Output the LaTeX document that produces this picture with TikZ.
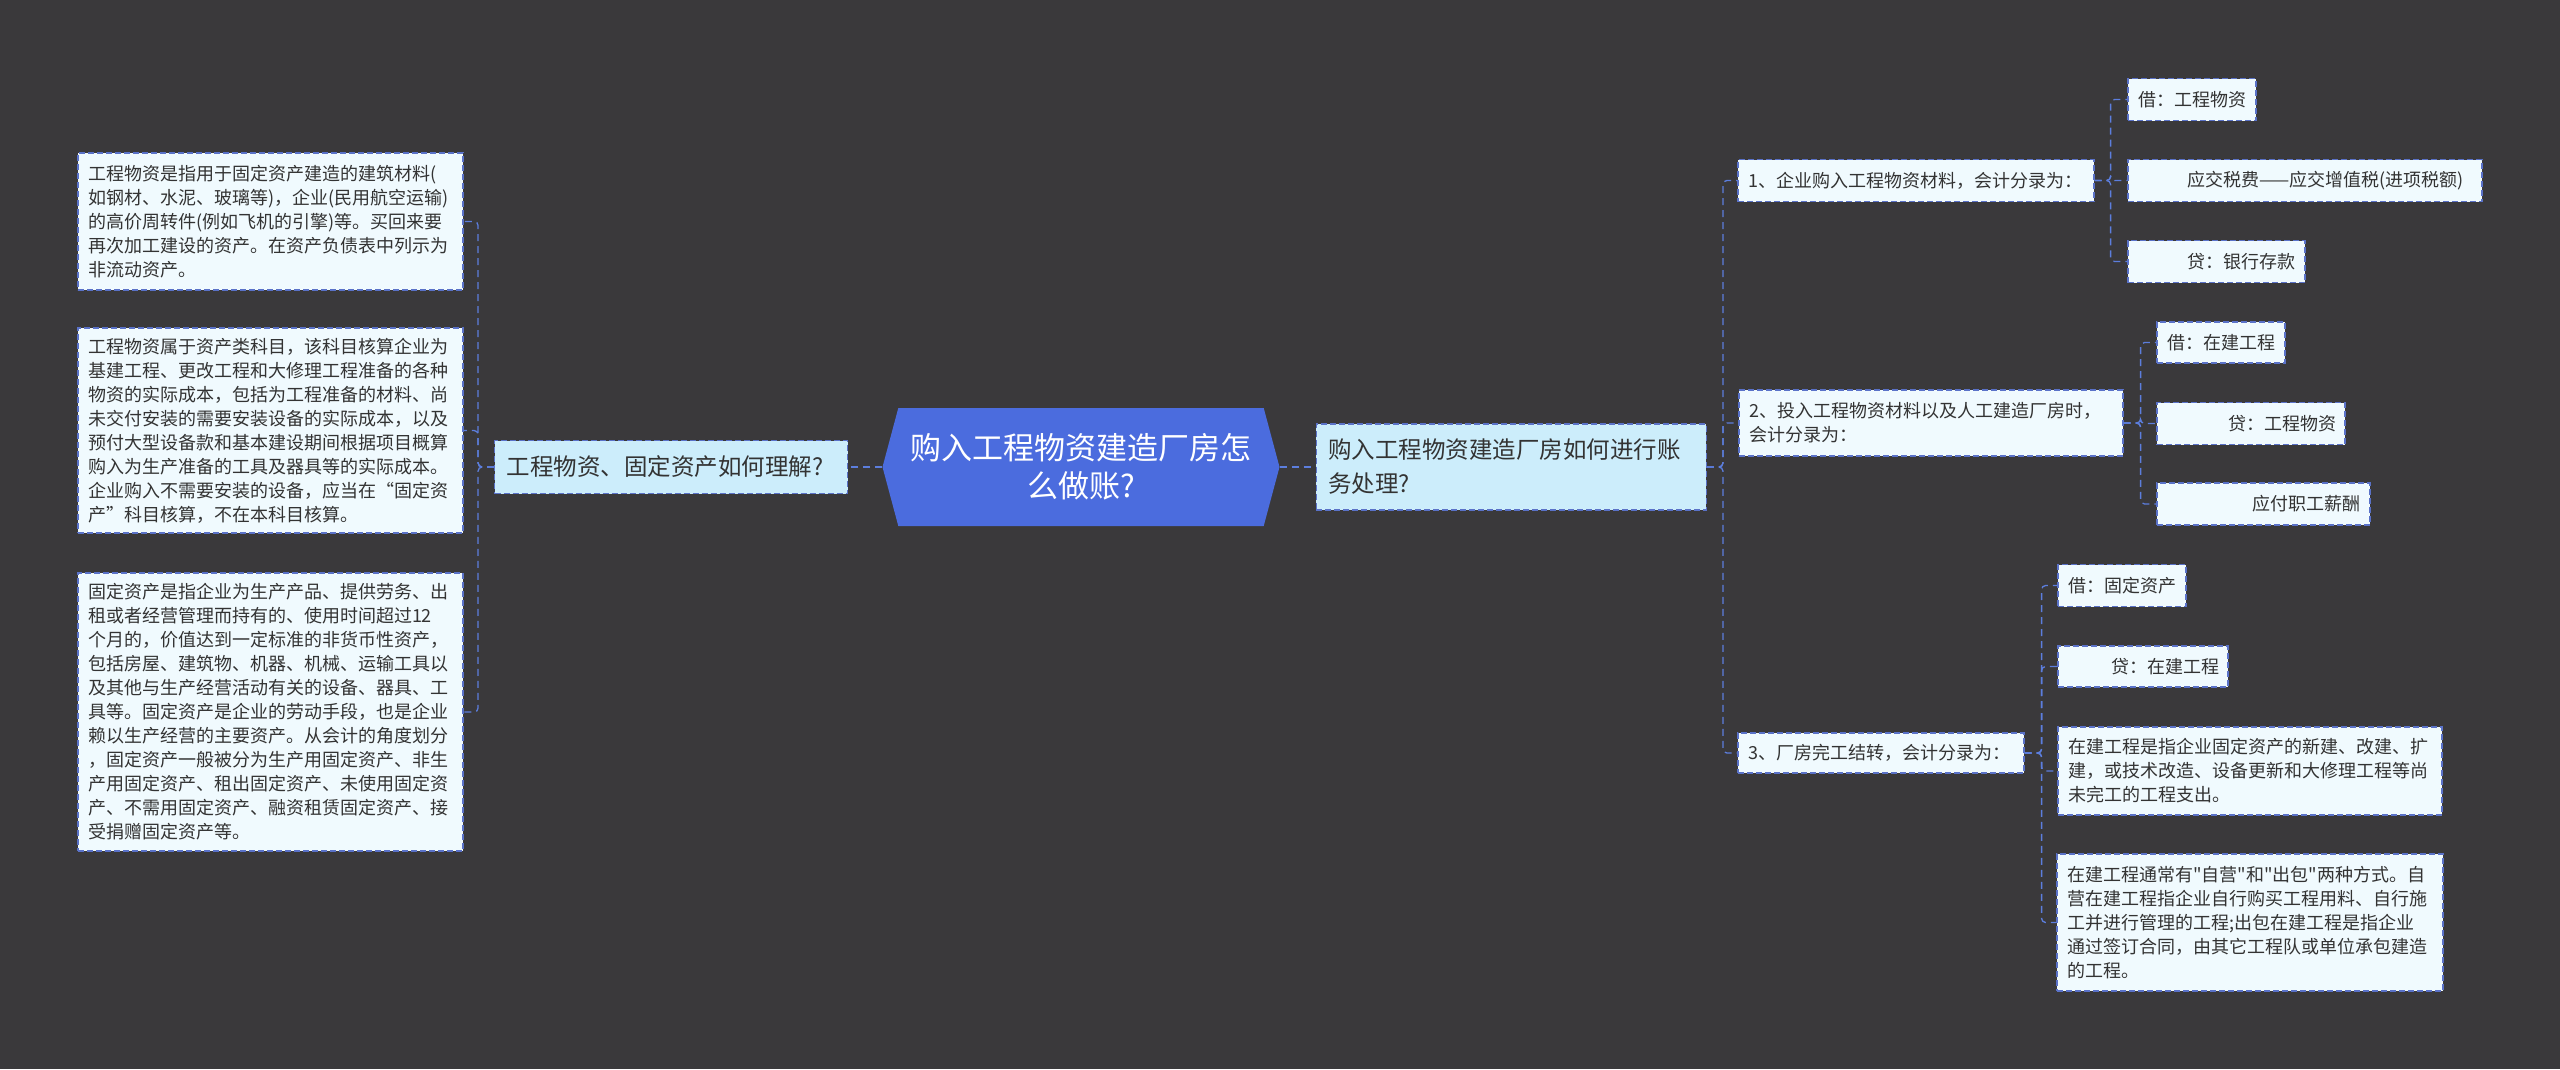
\documentclass[tikz,border=0pt]{standalone}
\usepackage{fontspec}
\setmainfont{Noto Sans CJK SC}[Ligatures=TeXOff]
\usepackage{xcolor}
\usetikzlibrary{positioning, shapes.symbols}

\definecolor{bgdark}{HTML}{3A393B}
\definecolor{rootblue}{HTML}{4B6CDE}
\definecolor{topicfill}{HTML}{CCEDFB}
\definecolor{leaffill}{HTML}{F0FAFE}
\definecolor{edgeblue}{HTML}{5A72C8}
\definecolor{linkblue}{HTML}{5C7EDD}
\definecolor{inkgray}{HTML}{333333}

\begin{document}
\begin{tikzpicture}[
        x=1pt, y=-1pt,
        node distance=34pt,
        hub/.style={signal, signal to=east and west, signal pointer angle=150, fill=rootblue, text=white, align=center, font=\fontsize{31}{38}\selectfont},
        topic/.style={rectangle, draw=edgeblue, dash pattern=on 6pt off 3pt, line width=1.2pt, fill=topicfill, text=inkgray, align=left, inner xsep=12pt, inner ysep=0pt, font=\fontsize{23.5}{34}\selectfont},
        leaf/.style={rectangle, draw=edgeblue, dash pattern=on 6pt off 3pt, line width=1.2pt, fill=leaffill, text=inkgray, align=left, inner xsep=10pt, inner ysep=0pt, minimum height=42pt, font=\fontsize{18}{24}\selectfont},
        link/.style={draw=linkblue, line width=1.3pt, dash pattern=on 7pt off 5pt, rounded corners=4pt},
    ]
        \fill[bgdark] (0,0) rectangle (2560,1069);
        \useasboundingbox (0,0) rectangle (2560,1069);

        % Centre
        \node[hub, minimum width=397pt, minimum height=118pt] (root) at (1081,467) {购入工程物资建造厂房怎\\么做账?};

        % Main topics
        \node[topic, left=34pt of root, text width=329pt, minimum height=53pt] (lmain) {工程物资、固定资产如何理解?};
        \node[topic, right=36pt of root, text width=366pt, minimum height=86pt] (rmain) {购入工程物资建造厂房如何进行账\\务处理?};

        % Left leaves
        \node[leaf, text width=365pt, minimum height=137pt] (defn) at (270.5,221.5) {工程物资是指用于固定资产建造的建筑材料(\\如钢材、水泥、玻璃等)，企业(民用航空运输)\\的高价周转件(例如飞机的引擎)等。买回来要\\再次加工建设的资产。在资产负债表中列示为\\非流动资产。};
        \node[leaf, text width=365pt, minimum height=205pt] (acct) at (270.5,430.5) {工程物资属于资产类科目，该科目核算企业为\\基建工程、更改工程和大修理工程准备的各种\\物资的实际成本，包括为工程准备的材料、尚\\未交付安装的需要安装设备的实际成本，以及\\预付大型设备款和基本建设期间根据项目概算\\购入为生产准备的工具及器具等的实际成本。\\企业购入不需要安装的设备，应当在“固定资\\产”科目核算，不在本科目核算。};
        \node[leaf, text width=365pt, minimum height=278pt] (fixed) at (270.5,712) {固定资产是指企业为生产产品、提供劳务、出\\租或者经营管理而持有的、使用时间超过12\\个月的，价值达到一定标准的非货币性资产，\\包括房屋、建筑物、机器、机械、运输工具以\\及其他与生产经营活动有关的设备、器具、工\\具等。固定资产是企业的劳动手段，也是企业\\赖以生产经营的主要资产。从会计的角度划分\\，固定资产一般被分为生产用固定资产、非生\\产用固定资产、租出固定资产、未使用固定资\\产、不需用固定资产、融资租赁固定资产、接\\受捐赠固定资产等。};

        % Right steps
        \node[leaf, text width=336pt] (buy) at (1916,180.5) {1、企业购入工程物资材料，会计分录为：};
        \node[leaf, text width=364pt, minimum height=66pt] (build) at (1931,423) {2、投入工程物资材料以及人工建造厂房时，\\会计分录为：};
        \node[leaf, text width=266pt, minimum height=40pt] (done) at (1881,753) {3、厂房完工结转，会计分录为：};

        % Entries of step 1
        \node[leaf, text width=108pt] (buyDr) at (2192,99.5) {借：工程物资};
        \node[leaf, text width=334pt] (buyVat) at (2305,180.5) {\hspace*{49pt}应交税费——应交增值税(进项税额)};
        \node[leaf, text width=157pt] (buyCr) at (2216.5,261.5) {\hspace*{49pt}贷：银行存款};

        % Entries of step 2
        \node[leaf, text width=108pt, minimum height=41pt] (buildDr) at (2221,342.5) {借：在建工程};
        \node[leaf, text width=168pt] (buildCr) at (2251,423.5) {\hspace*{61pt}贷：工程物资};
        \node[leaf, text width=193pt] (buildWage) at (2263.5,504) {\hspace*{85pt}应付职工薪酬};

        % Entries of step 3
        \node[leaf, text width=108pt] (doneDr) at (2122,585.5) {借：固定资产};
        \node[leaf, text width=150pt, minimum height=41pt] (doneCr) at (2143,666.5) {\hspace*{43pt}贷：在建工程};
        \node[leaf, text width=364pt, minimum height=88pt] (cipDef) at (2250,771) {在建工程是指企业固定资产的新建、改建、扩\\建，或技术改造、设备更新和大修理工程等尚\\未完工的工程支出。};
        \node[leaf, text width=366pt, minimum height=137pt] (cipMode) at (2250,922.5) {在建工程通常有"自营"和"出包"两种方式。自\\营在建工程指企业自行购买工程用料、自行施\\工并进行管理的工程;出包在建工程是指企业\\通过签订合同，由其它工程队或单位承包建造\\的工程。};

        % Links
        \draw[link] (root.west) -- (lmain.east);
        \draw[link] (root.east) -- (rmain.west);
        \foreach \n in {defn, acct, fixed}
            \draw[link] (lmain.west) -- ++(-16,0) |- (\n.east);
        \foreach \n in {buy, build, done}
            \draw[link] (rmain.east) -- ++(16,0) |- (\n.west);
        \foreach \n in {buyDr, buyVat, buyCr}
            \draw[link] (buy.east) -- ++(16,0) |- (\n.west);
        \foreach \n in {buildDr, buildCr, buildWage}
            \draw[link] (build.east) -- ++(17,0) |- (\n.west);
        \foreach \n in {doneDr, doneCr, cipDef, cipMode}
            \draw[link] (done.east) -- ++(17,0) |- (\n.west);

    \end{tikzpicture}
\end{document}
